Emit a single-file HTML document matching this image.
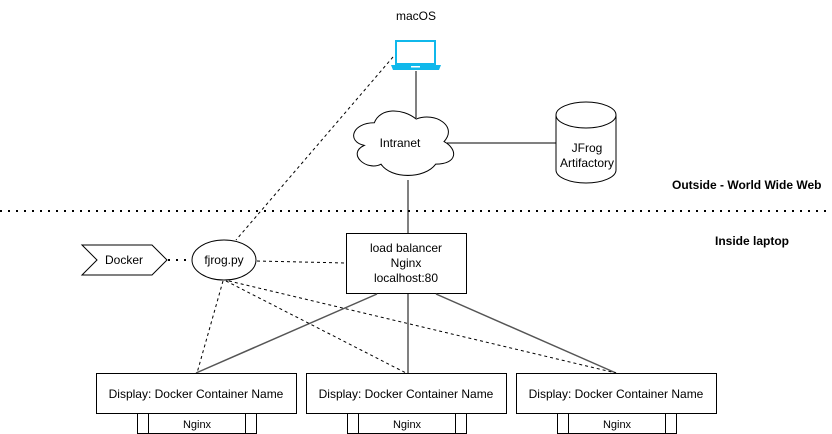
<!DOCTYPE html>
<html><head><meta charset="utf-8"><style>
html,body{margin:0;padding:0;background:#fff;}
svg{display:block;font-family:"Liberation Sans",sans-serif;}
</style></head><body>
<svg width="832" height="434" viewBox="0 0 832 434" xmlns="http://www.w3.org/2000/svg">
<rect width="832" height="434" fill="#fff"/>
<text x="416" y="20" font-size="12" text-anchor="middle" fill="#000">macOS</text>
<!-- laptop -->
<rect x="396" y="41" width="39" height="23" fill="#fff" stroke="#10B8EB" stroke-width="2"/>
<path d="M391 65 H441 L439 70 H393 Z" fill="#10B8EB"/>
<rect x="411" y="66" width="9" height="1.5" fill="#fff"/>
<!-- lines -->
<line x1="416" y1="71" x2="416" y2="118" stroke="#000"/>
<line x1="447" y1="143" x2="556" y2="143" stroke="#000"/>
<line x1="408" y1="180" x2="408" y2="233" stroke="#000"/>
<line x1="393" y1="57" x2="236" y2="240" stroke="#000" stroke-dasharray="3,3"/>
<!-- cloud -->
<g transform="translate(345,104) scale(0.93,0.94)">
<path d="M 31.5 20 C 7.5 20 1.5 40 20.7 44 C 1.5 52.8 23.1 72 38.7 64 C 49.5 80 85.5 80 97.5 64 C 121.5 64 121.5 48 106.5 40 C 121.5 24 97.5 8 76.5 16 C 61.5 4 37.5 4 31.5 20 Z" fill="#fff" stroke="#000" stroke-width="1.08"/>
</g>
<text x="400" y="147" font-size="12" text-anchor="middle">Intranet</text>
<!-- cylinder -->
<path d="M556 115 V170 A30 13 0 0 0 616 170 V115" fill="#fff" stroke="#000"/>
<ellipse cx="586" cy="115" rx="30" ry="13" fill="#fff" stroke="#000"/>
<text x="587" y="152" font-size="12" text-anchor="middle">JFrog</text>
<text x="587" y="167" font-size="12" text-anchor="middle">Artifactory</text>
<text x="672" y="189" font-size="12" font-weight="bold" fill="#000">Outside - World Wide Web</text>
<line x1="0" y1="211" x2="832" y2="211" stroke="#000" stroke-width="2" stroke-dasharray="2,6"/>
<text x="715" y="245" font-size="12" font-weight="bold">Inside laptop</text>
<!-- docker -->
<path d="M82 245 H152 L167 260 L152 275 H82 L97 260 Z" fill="#fff" stroke="#000"/>
<text x="124" y="264" font-size="12" text-anchor="middle">Docker</text>
<line x1="168" y1="260" x2="192" y2="260" stroke="#000" stroke-width="2" stroke-dasharray="2,6"/>
<ellipse cx="224" cy="260" rx="32" ry="20" fill="#fff" stroke="#000"/>
<text x="224" y="264" font-size="12" text-anchor="middle">fjrog.py</text>
<line x1="257" y1="261" x2="346" y2="263" stroke="#000" stroke-dasharray="3,3"/>
<!-- LB -->
<rect x="346.5" y="233.5" width="120" height="60" fill="#fff" stroke="#000"/>
<text x="406" y="252" font-size="12" text-anchor="middle">load balancer</text>
<text x="406" y="267" font-size="12" text-anchor="middle">Nginx</text>
<text x="406" y="282" font-size="12" text-anchor="middle">localhost:80</text>
<!-- connections -->
<g stroke="#555" stroke-width="1.5">
<line x1="377" y1="294" x2="196" y2="373"/>
<line x1="408" y1="294" x2="408" y2="373"/>
<line x1="436" y1="294" x2="616" y2="373"/>
</g>
<g stroke="#000" stroke-dasharray="3,3">
<line x1="223" y1="281" x2="197" y2="373"/>
<line x1="226" y1="281" x2="406" y2="373"/>
<line x1="229" y1="281" x2="616" y2="373"/>
</g>
<!-- boxes -->
<g fill="#fff" stroke="#000">
<rect x="96.5" y="373.5" width="200" height="40"/>
<rect x="306.5" y="373.5" width="200" height="40"/>
<rect x="516.5" y="373.5" width="200" height="40"/>
<rect x="137.5" y="413.5" width="119" height="20"/>
<rect x="148.5" y="413.5" width="97" height="20"/>
<rect x="347.5" y="413.5" width="119" height="20"/>
<rect x="358.5" y="413.5" width="97" height="20"/>
<rect x="557.5" y="413.5" width="119" height="20"/>
<rect x="568.5" y="413.5" width="97" height="20"/>
</g>
<g font-size="12" text-anchor="middle">
<text x="196" y="398">Display: Docker Container Name</text>
<text x="406" y="398">Display: Docker Container Name</text>
<text x="616" y="398">Display: Docker Container Name</text>
</g>
<g font-size="11" text-anchor="middle">
<text x="197" y="428">Nginx</text>
<text x="407" y="428">Nginx</text>
<text x="617" y="428">Nginx</text>
</g>
</svg>
</body></html>
